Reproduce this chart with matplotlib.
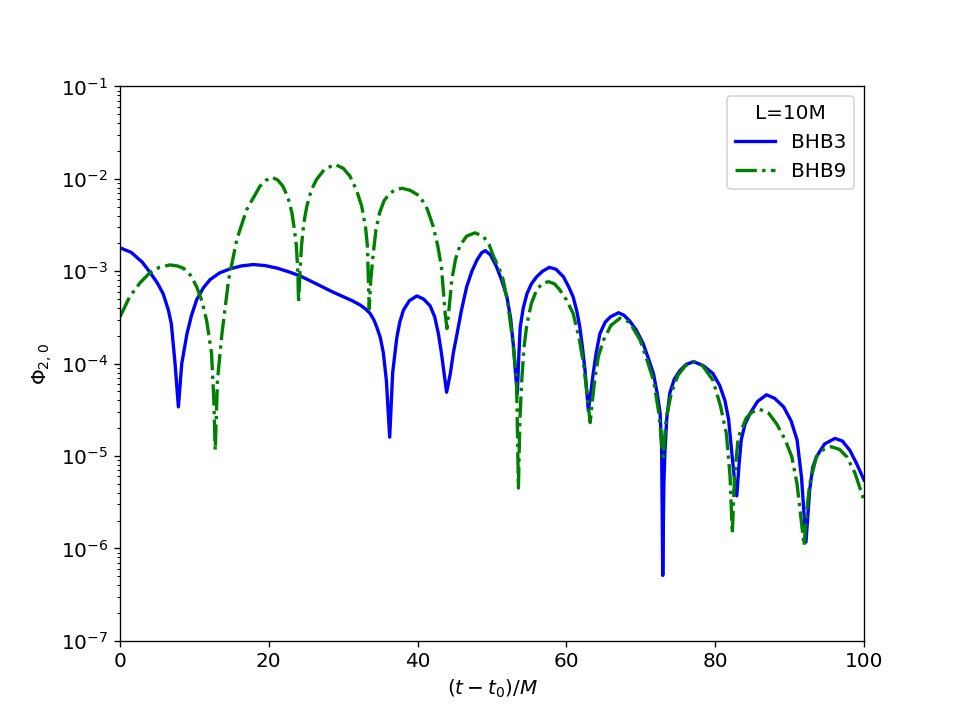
import matplotlib
matplotlib.use("Agg")
import matplotlib.pyplot as plt

plt.rcParams['font.size'] = 12

# BHB3
t_bhb3 = [0.0, 1.5, 3.0, 4.0, 5.0, 5.8, 6.5, 6.9, 7.4, 7.85, 8.3, 9.0, 9.6, 10.3,
          11.2, 12.1, 13.4, 14.8, 16.3, 17.9, 19.5, 21.1, 22.6, 24.2, 25.8, 27.3,
          28.7, 30.0, 31.2, 32.3, 33.0, 33.6, 34.1, 34.5, 35.0, 35.4, 35.8, 36.25,
          36.65, 37.2, 37.6, 38.1, 38.9, 39.9, 40.8, 41.7, 42.3, 42.8, 43.2, 43.5,
          43.9, 44.4, 44.8, 45.3, 45.9, 46.6, 47.3, 48.0, 48.6, 49.1, 49.8, 50.6,
          51.3, 52.0, 52.5, 52.9, 53.15, 53.4, 53.6, 53.8, 54.2, 54.7, 55.3, 56.0,
          56.8, 57.7, 58.6, 59.6, 60.3, 60.9, 61.4, 61.8, 62.2, 62.5, 62.95, 63.3,
          63.6, 64.0, 64.5, 65.2, 65.9, 67.0, 67.7, 68.5, 69.4, 70.3, 71.0, 71.7,
          72.2, 72.6, 72.8, 72.95, 73.1, 73.25, 73.5, 73.9, 74.5, 75.3, 76.1, 77.1,
          78.4, 79.7, 80.6, 81.3, 81.8, 82.2, 82.6, 82.9, 83.2, 83.5, 84.0, 84.7,
          85.7, 86.9, 88.0, 89.2, 90.2, 91.0, 91.6, 92.2, 92.7, 93.1, 93.6, 94.7,
          96.1, 97.1, 98.1, 99.0, 100.0]
phi_bhb3 = [1.79e-3, 1.6e-3, 1.25e-3, 9.8e-4, 7.5e-4, 5.7e-4, 3.8e-4, 2.7e-4, 1.0e-4,
            3.4e-5, 1.0e-4, 2.1e-4, 3.3e-4, 4.9e-4, 6.6e-4, 8.1e-4, 9.6e-4, 1.06e-3,
            1.14e-3, 1.18e-3, 1.15e-3, 1.08e-3, 9.9e-4, 8.9e-4, 7.7e-4, 6.7e-4,
            5.9e-4, 5.3e-4, 4.8e-4, 4.3e-4, 3.9e-4, 3.5e-4, 3.0e-4, 2.5e-4, 1.9e-4,
            1.3e-4, 6.6e-5, 1.6e-5, 8.0e-5, 1.9e-4, 2.8e-4, 3.8e-4, 4.8e-4, 5.4e-4,
            5.0e-4, 4.2e-4, 3.2e-4, 2.1e-4, 1.3e-4, 8.5e-5, 4.9e-5, 7.8e-5, 1.3e-4,
            2.1e-4, 3.8e-4, 6.8e-4, 1.0e-3, 1.33e-3, 1.58e-3, 1.67e-3, 1.5e-3,
            1.12e-3, 8.0e-4, 5.3e-4, 3.1e-4, 1.5e-4, 8.0e-5, 4.7e-5, 1.2e-4, 2.5e-4,
            4.0e-4, 5.7e-4, 7.3e-4, 8.7e-4, 1.0e-3, 1.1e-3, 1.05e-3, 8.7e-4, 6.8e-4,
            5.3e-4, 3.7e-4, 2.5e-4, 1.4e-4, 8.5e-5, 3.1e-5, 5.0e-5, 7.8e-5, 1.3e-4,
            2.1e-4, 2.8e-4, 3.2e-4, 3.55e-4, 3.35e-4, 2.9e-4, 2.3e-4, 1.66e-4,
            1.15e-4, 7.8e-5, 4.8e-5, 2.9e-5, 1.2e-5, 5.1e-7, 5.0e-6, 1.15e-5, 2.6e-5,
            4.8e-5, 6.8e-5, 8.5e-5, 9.8e-5, 1.05e-4, 9.5e-5, 7.8e-5, 5.8e-5, 4.0e-5,
            2.5e-5, 1.15e-5, 5.5e-6, 3.7e-6, 8.0e-6, 1.5e-5, 2.2e-5, 2.9e-5, 3.9e-5,
            4.6e-5, 4.2e-5, 3.4e-5, 2.4e-5, 1.5e-5, 5.9e-6, 1.17e-6, 4.3e-6, 7.5e-6,
            9.8e-6, 1.35e-5, 1.55e-5, 1.45e-5, 1.15e-5, 8.3e-6, 5.5e-6]

# BHB9
t_bhb9 = [0.0, 1.3, 2.7, 4.0, 5.3, 6.7, 7.7, 8.5, 9.5, 10.3, 11.0, 11.65, 12.3,
          12.6, 12.8, 13.1, 13.7, 14.6, 15.7, 17.0, 18.8, 19.6, 20.4, 21.2, 21.9,
          22.6, 23.1, 23.45, 23.7, 23.9, 24.0, 24.2, 24.4, 24.7, 25.1, 25.7, 26.4,
          27.5, 28.9, 30.0, 30.9, 31.8, 32.5, 33.0, 33.25, 33.5, 33.7, 34.05, 34.4,
          34.9, 35.5, 36.3, 37.0, 37.9, 39.0, 40.3, 41.3, 42.1, 42.7, 43.2, 43.7,
          43.95, 44.3, 44.6, 45.1, 45.7, 46.6, 47.7, 48.8, 49.6, 50.2, 50.9, 51.5,
          52.1, 52.6, 53.0, 53.3, 53.55, 53.75, 54.0, 54.3, 54.7, 55.3, 56.0, 56.8,
          57.6, 58.4, 59.1, 60.0, 60.9, 61.7, 62.3, 62.8, 63.2, 63.5, 63.8, 64.3,
          65.0, 66.0, 67.2, 68.5, 69.9, 70.9, 71.7, 72.4, 73.0, 73.4, 74.1, 75.0,
          76.0, 77.1, 78.3, 79.7, 80.7, 81.5, 82.0, 82.3, 82.6, 83.1, 84.2, 85.0,
          86.0, 87.2, 88.3, 89.4, 90.3, 91.0, 91.4, 91.95, 92.3, 92.7, 93.6, 94.5,
          95.6, 96.7, 97.7, 98.8, 100.0]
phi_bhb9 = [3.2e-4, 5.3e-4, 7.5e-4, 9.6e-4, 1.1e-3, 1.17e-3, 1.14e-3, 1.08e-3, 9.0e-4,
            6.8e-4, 4.8e-4, 2.9e-4, 1.3e-4, 4.3e-5, 1.15e-5, 6.6e-5, 2.1e-4, 8.1e-4,
            2.2e-3, 4.6e-3, 8.3e-3, 9.6e-3, 1.04e-2, 9.7e-3, 8.3e-3, 6.2e-3, 4.3e-3,
            2.8e-3, 1.9e-3, 1.0e-3, 4.6e-4, 1.0e-3, 1.9e-3, 3.3e-3, 5.0e-3, 7.5e-3,
            9.8e-3, 1.27e-2, 1.43e-2, 1.3e-2, 1.07e-2, 7.5e-3, 5.0e-3, 3.0e-3,
            1.9e-3, 3.9e-4, 8.0e-4, 1.58e-3, 2.8e-3, 4.3e-3, 5.8e-3, 7.0e-3, 7.6e-3,
            7.9e-3, 7.5e-3, 6.5e-3, 4.7e-3, 3.05e-3, 1.9e-3, 1.12e-3, 3.5e-4, 2.4e-4,
            4.5e-4, 8.1e-4, 1.35e-3, 1.9e-3, 2.4e-3, 2.6e-3, 2.4e-3, 1.95e-3, 1.45e-3,
            1.1e-3, 8.1e-4, 4.6e-4, 2.3e-4, 1.2e-4, 6.6e-5, 4.5e-6, 2.5e-5, 6.6e-5,
            1.5e-4, 2.7e-4, 4.5e-4, 6.3e-4, 7.4e-4, 7.7e-4, 7.3e-4, 6.3e-4, 4.9e-4,
            3.5e-4, 1.9e-4, 1.0e-4, 4.5e-5, 2.3e-5, 4.0e-5, 6.6e-5, 1.2e-4, 1.8e-4,
            2.6e-4, 3.1e-4, 2.8e-4, 1.8e-4, 1.05e-4, 6.6e-5, 3.0e-5, 9.8e-6, 2.5e-5,
            4.8e-5, 7.5e-5, 9.5e-5, 1.05e-4, 9.5e-5, 6.6e-5, 3.5e-5, 1.75e-5, 6.0e-6,
            1.45e-6, 6.0e-6, 1.6e-5, 2.6e-5, 3.0e-5, 3.2e-5, 2.9e-5, 2.2e-5, 1.5e-5,
            9.8e-6, 5.0e-6, 2.6e-6, 1.07e-6, 2.5e-6, 5.0e-6, 9.8e-6, 1.17e-5,
            1.26e-5, 1.18e-5, 9.8e-6, 6.5e-6, 3.3e-6]

fig, ax = plt.subplots(figsize=(8, 6), dpi=120)

ax.semilogy(t_bhb3, phi_bhb3, color='b', linestyle='-', linewidth=2, label='BHB3')
ax.semilogy(t_bhb9, phi_bhb9, color='g', linestyle='-.', linewidth=2, label='BHB9')

ax.set_xlim(0, 100)
ax.set_ylim(1e-7, 1e-1)
ax.set_xlabel(r'$(t-t_0)/M$')
ax.set_ylabel(r'$\Phi_{2,0}$')
ax.legend(title='L=10M', loc='upper right')

fig.savefig('out.png', dpi=120)
